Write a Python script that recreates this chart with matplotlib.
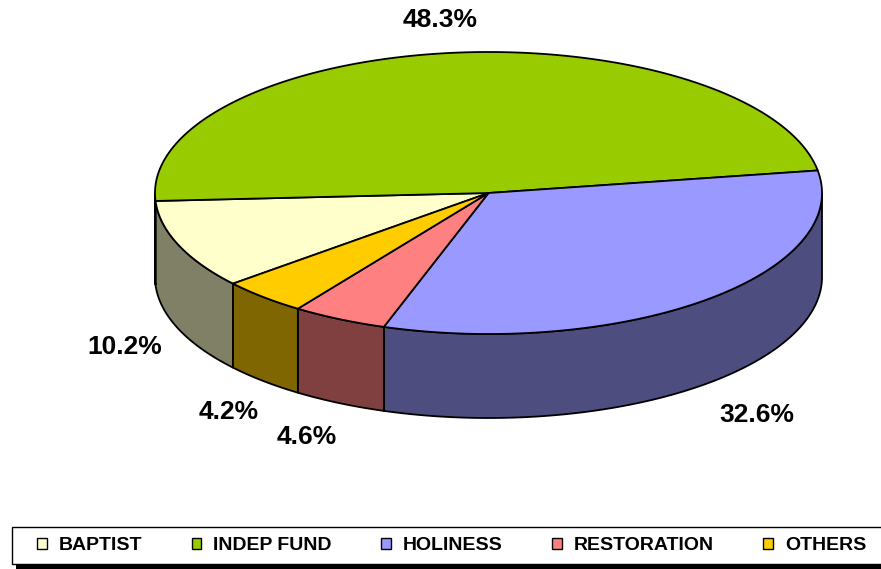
import numpy as np
import matplotlib
matplotlib.use("Agg")
import matplotlib.pyplot as plt
from matplotlib.patches import Polygon, Rectangle, Patch

# data
labels = ["BAPTIST", "INDEP FUND", "HOLINESS", "RESTORATION", "OTHERS"]
shares = [10.2, 48.3, 32.6, 4.6, 4.2]
top_colors = ["#FFFFCC", "#99CC00", "#9999FF", "#FF8080", "#FFCC00"]
side_colors = ["#808066", "#4D6600", "#4D4D80", "#804040", "#806600"]
pct_labels = ["10.2%", "48.3%", "32.6%", "4.6%", "4.2%"]
# label anchor positions (pixels)
pct_pos = [(125, 347), (440, 20), (757, 415), (307, 437), (229, 412)]

W, H = 881, 569
plt.rcParams['font.family'] = ['Liberation Sans', 'DejaVu Sans']

fig = plt.figure(figsize=(W / 100, H / 100), dpi=100)
ax = fig.add_axes([0, 0, 1, 1])
ax.set_xlim(0, W)
ax.set_ylim(H, 0)
ax.axis('off')

# pie geometry (pixels)
cx, cy = 488.5, 193
a, b = 333.5, 141
depth = 84
start = 220.0


def pts(t0, t1, dy=0, n=200):
    t = np.radians(np.linspace(t0, t1, n))
    return np.column_stack([cx + a * np.cos(t), cy - b * np.sin(t) + dy])


frac = np.array(shares) / np.sum(shares) * 360.0
cum = np.concatenate([[0], np.cumsum(frac)])
spans = [(start - cum[i + 1], start - cum[i]) for i in range(len(shares))]

# side walls (front half only)
for (lo, hi), sc in zip(spans, side_colors):
    for f0, f1 in [(-180, 0), (180, 360)]:
        s0, s1 = max(lo, f0), min(hi, f1)
        if s1 - s0 <= 0.01:
            continue
        top = pts(s0, s1)
        bot = pts(s1, s0, dy=depth)
        ax.add_patch(Polygon(np.vstack([top, bot]), closed=True,
                             facecolor=sc, edgecolor='black', lw=1.3,
                             joinstyle='round'))

# top faces
for (lo, hi), tc in zip(spans, top_colors):
    arc = pts(lo, hi)
    poly = np.vstack([[cx, cy], arc])
    ax.add_patch(Polygon(poly, closed=True, facecolor=tc,
                         edgecolor='black', lw=1.3, joinstyle='round'))

# percentage labels
for txt, (x, y) in zip(pct_labels, pct_pos):
    ax.text(x, y, txt, ha='center', va='center', fontsize=19,
            fontweight='bold', color='black')

# legend box with shadow
ax.add_patch(Rectangle((16, 531), 880, 40, facecolor='black',
                       edgecolor='none', zorder=5))
ax.add_patch(Rectangle((12, 527), 880, 37, facecolor='white',
                       edgecolor='black', lw=1.0, zorder=6))

handles = [Patch(facecolor=c, edgecolor='black', lw=1.0) for c in top_colors]
leg = fig.legend(handles, labels, ncol=5, mode='expand', frameon=False,
                 loc='center',
                 bbox_to_anchor=(37 / W, 1 - 563 / H, 829 / W, 35 / H),
                 prop={'weight': 'bold', 'size': 14},
                 handlelength=0.5, handleheight=0.5, handletextpad=0.6,
                 borderpad=0, borderaxespad=0)
leg.set_zorder(10)

fig.savefig("out.png", dpi=100)
